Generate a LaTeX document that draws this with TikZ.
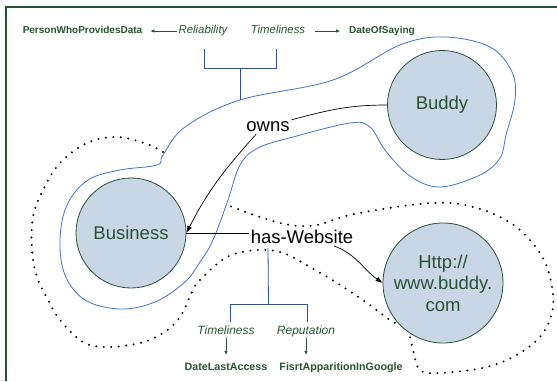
\documentclass[tikz,border=0pt]{standalone}
\usepackage{fontspec}
\setmainfont{Liberation Sans}
\usetikzlibrary{calc,arrows.meta}
\definecolor{leafgreen}{RGB}{40,82,52}
\definecolor{bubblefill}{RGB}{201,214,229}
\definecolor{outlineblue}{RGB}{68,114,196}
\definecolor{forkblue}{RGB}{50,82,140}
\newcommand{\bigtext}{\fontsize{18.5}{21.5}\selectfont}
\newcommand{\drawfork}[4]{
	\draw[forkblue, line width=0.8pt] (#1) -- ++(0,#3) -| (#2);
	\draw[forkblue, line width=0.8pt] ($(#1)!0.5!(#2)+(0,#3)$) -- (#4);
}
\tikzset{
	bubble/.style={circle, draw=leafgreen, line width=0.8pt, fill=bubblefill, inner sep=0pt, text=leafgreen, font=\bigtext, align=center},
	relation/.style={inner sep=2pt, font=\bigtext},
	quality/.style={inner sep=1.5pt, text=leafgreen, font=\fontsize{#1}{#1}\selectfont\itshape, text height=8pt, text depth=2pt},
	quality/.default=11.4,
	source/.style={inner sep=1.5pt, text=leafgreen, font=\fontsize{#1}{#1}\selectfont\bfseries, text height=8pt, text depth=2pt},
	source/.default=10,
	pointer/.style={-{Latex[length=7pt,width=5pt]}, line width=0.7pt},
	qpointer/.style={-{Latex[length=4.5pt,width=3.5pt]}, line width=0.8pt, leafgreen},
	dotline/.style={line width=2.2pt, line cap=round, dash pattern=on 0pt off 7.5pt}
}

\begin{document}
\begin{tikzpicture}[x=1pt,y=1pt]
	\useasboundingbox (0,0) rectangle (557,381);
	\draw[leafgreen, line width=1.3pt] (6,0) -- (6,374) -- (557,374);

	% outlines
	\draw[outlineblue, line width=0.8pt] plot[smooth cycle, tension=0.6] coordinates {
		(163,226) (185,254) (240,281) (333,301) (400,336) (445,344) (490,334)
		(512,309) (515,281) (506,246) (500,223) (480,206) (440,194) (410,205)
		(385,231) (370,254) (350,258) (293,244) (258,233) (240,216) (228,181)
		(213,141) (200,119) (185,99) (155,79) (120,72) (85,81) (65,106)
		(60,141) (67,176) (88,201) (120,211) (157,216)};
	\draw[dotline] plot[smooth, tension=0.6] coordinates {
		(163,229) (147,237) (117,244) (87,238) (60,218) (43,191) (33,164)
		(32,131) (37,104) (47,83) (60,61) (83,39) (107,34) (140,38) (163,48)
		(180,64) (193,91) (200,101) (227,124) (257,131) (283,128) (310,114)
		(337,98) (367,78) (390,61) (407,51) (413,31) (420,11) (440,8) (487,14)
		(520,28) (543,48) (553,74) (550,104) (540,128) (520,151) (500,164)
		(477,173) (450,178) (410,176) (350,166) (317,156) (290,156) (260,164)
		(230,175)};

	\node[bubble, minimum size=109pt] (Buddy) at (442,276) {Buddy};
	\node[bubble, minimum size=110pt] (Business) at (131,148) {Business};
	\node[bubble, minimum size=120pt] (Http) at (443,98) {Http://\\www.buddy.\\com};

	\node[relation] (owns) at (268,254) {owns};
	\node[relation] (hasWebsite) at (302,144) {has-Website};

	\node[source] (Provider) at (82.5,350) {PersonWhoProvidesData};
	\node[quality] (Reliability) at (203,350) {Reliability};
	\node[quality] (OwnTimeliness) at (278,350) {Timeliness};
	\node[source] (DateOfSaying) at (382,350) {DateOfSaying};

	\node[quality=12] (WebTimeliness) at (226,50) {Timeliness};
	\node[quality=12] (Reputation) at (306,50) {Reputation};
	\node[source=10.7] (DateLastAccess) at (226,14) {DateLastAccess};
	\node[source=10.7] (FirstApparition) at (341,14) {FisrtApparitionInGoogle};

	\draw[line width=0.7pt] (Buddy.west) to[out=180,in=15] (owns.north east);
	\draw[pointer] ($(owns.south west)!0.5!(owns.south)$) to[out=228,in=63] (Business.east);
	\draw[line width=0.7pt] (Business.east) -- (Business.east -| hasWebsite.west);
	\draw[pointer] ($(hasWebsite.south)!0.6!(hasWebsite.south east)$) to[out=-20,in=145] (Http.west);

	\draw[qpointer, shorten >=6pt] (Reliability.west) -- (Reliability.west -| Provider.east);
	\draw[qpointer, shorten <=8pt, shorten >=7pt] (OwnTimeliness.east) -- (OwnTimeliness.east -| DateOfSaying.west);
	\draw[qpointer, shorten >=5pt] (WebTimeliness.south) -- (WebTimeliness.south |- DateLastAccess.north);
	\draw[qpointer, shorten >=5pt] (Reputation.south) -- (Reputation.south |- FirstApparition.north);

	\coordinate (RelFoot) at (204,332);
	\coordinate (TimFoot) at (276,332);
	\coordinate (OwnsStem) at (240,281);
	\drawfork{RelFoot}{TimFoot}{-19}{OwnsStem}
	\coordinate (WebTimFoot) at (230,59);
	\coordinate (RepFoot) at (307,59);
	\coordinate (WebStem) at (268,133);
	\drawfork{WebTimFoot}{RepFoot}{18}{WebStem}
\end{tikzpicture}
\end{document}
